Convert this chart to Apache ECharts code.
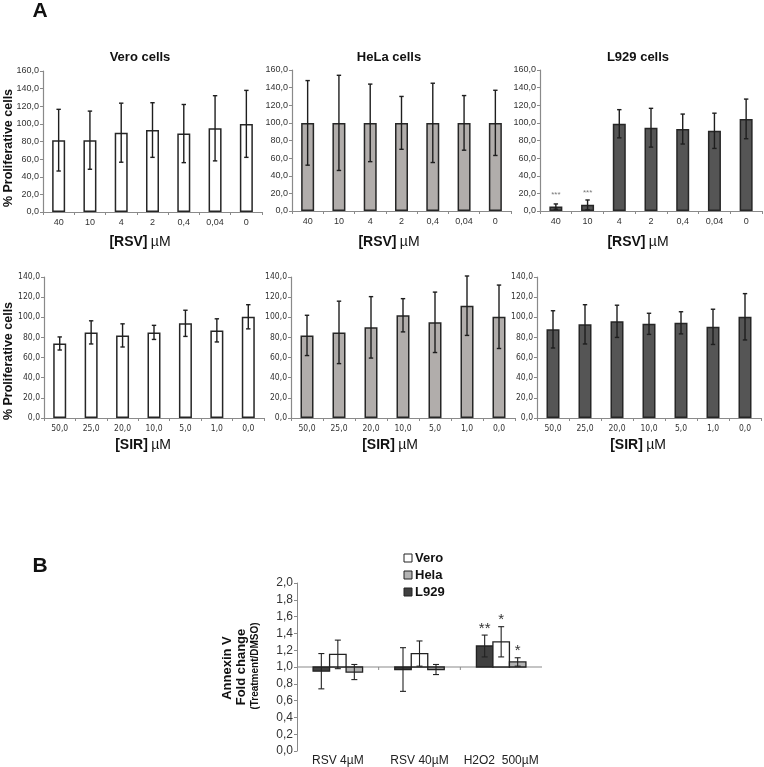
<!DOCTYPE html>
<html><head><meta charset="utf-8">
<script src="https://cdn.jsdelivr.net/npm/echarts@6/dist/echarts.min.js"></script>
<style>html,body{margin:0;padding:0;background:#fff}#c{width:764px;height:767px}</style>
</head><body><div id="c"></div>
<script>
// ---------- DATA ----------
const rsvCats = ['40','10','4','2','0,4','0,04','0'];
const sirCats = ['50,0','25,0','20,0','10,0','5,0','1,0','0,0'];

const veroRSV    = [81.5, 81.5, 90, 93, 89, 95, 100];
const veroRSVErr = [35, 33, 33.5, 31, 33, 37, 38];
const helaRSV    = [100, 100, 100, 100, 100, 100, 100];
const helaRSVErr = [48, 54, 44, 30, 45, 31, 37];
const l929RSV    = [5, 7, 99, 94.5, 93, 91, 104.5];
const l929RSVErr = [3, 5.5, 16, 22, 17, 20, 22.5];
const l929RSVSig = ['***','***','','','','',''];

const veroSIR    = [74, 85, 82, 85, 94, 87, 100.5];
const veroSIRErr = [6.5, 11.5, 11.5, 7, 13, 11.5, 12];
const helaSIR    = [82, 85, 90, 102, 95, 111.5, 100.5];
const helaSIRErr = [20, 31, 30.5, 16.5, 30, 29.5, 31.5];
const l929SIR    = [88, 93, 96, 93.5, 94.5, 90.5, 100.5];
const l929SIRErr = [18.5, 19.5, 16, 10.5, 11, 17.5, 23];

const bCats    = ['RSV 4µM', 'RSV 40µM', 'H2O2  500µM'];
const bL929    = [0.95, 0.97, 1.25];
const bL929Err = [0.21, 0.26, 0.13];
const bL929Sig = ['', '', '**'];
const bVero    = [1.15, 1.16, 1.30];
const bVeroErr = [0.17, 0.15, 0.18];
const bVeroSig = ['', '', '*'];
const bHela    = [0.94, 0.97, 1.06];
const bHelaErr = [0.09, 0.06, 0.05];
const bHelaSig = ['', '', '*'];

// ---------- BUILD ----------
const F = '"Liberation Sans", Arial, sans-serif';
const FN = '"Liberation Sans Narrow", "DejaVu Sans Condensed", "Liberation Sans", sans-serif';
const comma = v => v.toFixed(1).replace('.', ',');

const grids = [], xAxes = [], yAxes = [], series = [];

function panel(pos, cats, vals, errs, color, ymax, narrow, sig) {
  const gi = grids.length;
  grids.push({left: pos[0], top: pos[1], width: pos[2], height: pos[3], containLabel: false});
  xAxes.push({
    type: 'category', gridIndex: gi, data: cats,
    axisLine: {lineStyle: {color: '#8a8a8a', width: 1.2}},
    axisTick: {show: true, length: 3, lineStyle: {color: '#8a8a8a'}},
    axisLabel: {interval: 0, fontSize: narrow ? 8.5 : 9, fontFamily: narrow ? FN : F, color: '#333', margin: 6}
  });
  yAxes.push({
    type: 'value', gridIndex: gi, min: 0, max: ymax, interval: 20,
    axisLine: {show: true, lineStyle: {color: '#8a8a8a', width: 1.2}},
    axisTick: {show: true, length: 3, lineStyle: {color: '#8a8a8a'}},
    splitLine: {show: false},
    axisLabel: {fontSize: narrow ? 8.5 : 9, fontFamily: narrow ? FN : F, color: '#333', margin: 4, formatter: comma}
  });
  series.push({
    type: 'bar', xAxisIndex: gi, yAxisIndex: gi, data: vals, barWidth: 13,
    itemStyle: {color: color, borderColor: '#262626', borderWidth: 1.5},
    label: {show: !!sig, position: 'top', distance: 8, fontSize: 8, color: '#777', fontFamily: F,
      formatter: p => sig ? sig[p.dataIndex] : ''},
    z: 2
  });
  series.push({
    type: 'custom', xAxisIndex: gi, yAxisIndex: gi, z: 3,
    data: vals.map((v, i) => [i, v - errs[i], v + errs[i]]),
    encode: {x: 0, y: [1, 2]},
    renderItem: (params, api) => {
      const x = api.value(0);
      const lo = api.coord([x, api.value(1)]);
      const hi = api.coord([x, api.value(2)]);
      const st = {stroke: '#1e1e1e', lineWidth: 1.4};
      const c = 2.2;
      return {type: 'group', children: [
        {type: 'line', shape: {x1: lo[0], y1: lo[1], x2: hi[0], y2: hi[1]}, style: st},
        {type: 'line', shape: {x1: hi[0]-c, y1: hi[1], x2: hi[0]+c, y2: hi[1]}, style: st},
        {type: 'line', shape: {x1: lo[0]-c, y1: lo[1], x2: lo[0]+c, y2: lo[1]}, style: st}
      ]};
    }
  });
}

panel([43, 71, 219, 141], rsvCats, veroRSV, veroRSVErr, '#ffffff', 160, false, null);
panel([292, 70, 219, 141], rsvCats, helaRSV, helaRSVErr, '#b1adab', 160, false, null);
panel([540, 70, 222, 141], rsvCats, l929RSV, l929RSVErr, '#555555', 160, false, l929RSVSig);
panel([44, 277, 220, 141], sirCats, veroSIR, veroSIRErr, '#ffffff', 140, true, null);
panel([291, 277, 224, 141], sirCats, helaSIR, helaSIRErr, '#b1adab', 140, true, null);
panel([537, 277, 224, 141], sirCats, l929SIR, l929SIRErr, '#555555', 140, true, null);

// Panel B
const bg = grids.length;
grids.push({left: 297, top: 583, width: 245, height: 170});
xAxes.push({
  type: 'category', gridIndex: bg, data: bCats,
  axisLine: {show: false}, axisTick: {show: false},
  axisLabel: {interval: 0, hideOverlap: false, fontSize: 12, fontFamily: F, color: '#222', margin: 4}
});
yAxes.push({
  type: 'value', gridIndex: bg, min: 0, max: 2, interval: 0.2,
  axisLine: {show: true, lineStyle: {color: '#8a8a8a'}},
  axisTick: {show: true, length: 3, lineStyle: {color: '#8a8a8a'}},
  splitLine: {show: false},
  axisLabel: {fontSize: 12, fontFamily: F, color: '#333', margin: 4, formatter: comma}
});
// baseline at 1.0
series.push({
  type: 'custom', xAxisIndex: bg, yAxisIndex: bg, z: 1, data: [[0, 1]],
  renderItem: (params, api) => {
    const cs = params.coordSys;
    const p = api.coord([0, api.value(1)]);
    const w = api.size([1, 0])[0];
    const kids = [{type: 'line', shape: {x1: cs.x, y1: p[1], x2: cs.x + cs.width, y2: p[1]},
      style: {stroke: '#8a8a8a', lineWidth: 1.2}}];
    for (let k = 1; k < bCats.length; k++) {
      const tx = cs.x + w * k;
      kids.push({type: 'line', shape: {x1: tx, y1: p[1], x2: tx, y2: p[1] + 3}, style: {stroke: '#8a8a8a', lineWidth: 1}});
    }
    return {type: 'group', children: kids};
  }
});
const BW = 16.5;
function bSeries(vals, errs, sig, color, off) {
  series.push({
    type: 'custom', xAxisIndex: bg, yAxisIndex: bg, z: 2,
    data: vals.map((v, i) => [i, v]),
    renderItem: (params, api) => {
      const i = api.value(0);
      const p = api.coord([i, api.value(1)]);
      const b = api.coord([i, 1]);
      const cx = p[0] + off * BW;
      return {type: 'rect', shape: {x: cx - BW / 2, y: Math.min(p[1], b[1]), width: BW, height: Math.abs(p[1] - b[1])},
        style: {fill: color, stroke: '#222', lineWidth: 1.3}};
    }
  });
  series.push({
    type: 'custom', xAxisIndex: bg, yAxisIndex: bg, z: 3,
    data: vals.map((v, i) => [i, v - errs[i], v + errs[i]]),
    renderItem: (params, api) => {
      const i = api.value(0);
      const lo = api.coord([i, api.value(1)]);
      const hi = api.coord([i, api.value(2)]);
      const cx = lo[0] + off * BW;
      const st = {stroke: '#222', lineWidth: 1.1};
      const c = 3;
      const kids = [
        {type: 'line', shape: {x1: cx, y1: lo[1], x2: cx, y2: hi[1]}, style: st},
        {type: 'line', shape: {x1: cx - c, y1: hi[1], x2: cx + c, y2: hi[1]}, style: st},
        {type: 'line', shape: {x1: cx - c, y1: lo[1], x2: cx + c, y2: lo[1]}, style: st}
      ];
      const s = sig[params.dataIndex];
      if (s) kids.push({type: 'text', x: cx, y: hi[1] + 1,
        style: {text: s, font: '15px ' + F, fill: '#333', textAlign: 'center', textVerticalAlign: 'bottom'}});
      return {type: 'group', children: kids};
    }
  });
}
bSeries(bL929, bL929Err, bL929Sig, '#404040', -1);
bSeries(bVero, bVeroErr, bVeroSig, '#ffffff', 0);
bSeries(bHela, bHelaErr, bHelaSig, '#b3b3b3', 1);

// ---------- TEXT ----------
function txt(t, x, y, font, opts) {
  return Object.assign({type: 'text', x: x, y: y, silent: true,
    style: {text: t, font: font, fill: '#111', textAlign: 'center', textVerticalAlign: 'middle'}}, opts || {});
}
const graphics = [
  txt('A', 40, 11, 'bold 21px ' + F),
  txt('B', 40, 566, 'bold 21px ' + F),
  txt('Vero cells', 140, 57, 'bold 13px ' + F),
  txt('HeLa cells', 389, 57, 'bold 13px ' + F),
  txt('L929 cells', 638, 57, 'bold 13px ' + F),
  txt('% Proliferative cells', 9, 148, 'bold 12.5px ' + F, {rotation: Math.PI / 2}),
  txt('% Proliferative cells', 9, 361, 'bold 12.5px ' + F, {rotation: Math.PI / 2}),
  txt('Annexin V', 227, 668, 'bold 13px ' + F, {rotation: Math.PI / 2}),
  txt('Fold change', 241, 667, 'bold 13px ' + F, {rotation: Math.PI / 2}),
  txt('(Treatment/DMSO)', 255, 666, 'bold 10px ' + F, {rotation: Math.PI / 2})
];
[[140, 242, '[RSV]'], [389, 242, '[RSV]'], [638, 242, '[RSV]'],
 [143, 445, '[SIR]'], [390, 445, '[SIR]'], [638, 445, '[SIR]']].forEach(a => {
  graphics.push({type: 'text', x: a[0], y: a[1], silent: true, style: {
    text: '{b|' + a[2] + '} {m|µM}', textAlign: 'center', textVerticalAlign: 'middle',
    rich: {b: {font: 'bold 14px ' + F, fill: '#111'}, m: {font: '14px ' + F, fill: '#111'}}
  }});
});
[['Vero', '#ffffff', 558], ['Hela', '#b3b3b3', 575], ['L929', '#404040', 592]].forEach(l => {
  graphics.push({type: 'rect', x: 404, y: l[2] - 4, shape: {x: 0, y: 0, width: 8, height: 8}, silent: true,
    style: {fill: l[1], stroke: '#222', lineWidth: 1}});
  graphics.push({type: 'text', x: 415, y: l[2], silent: true,
    style: {text: l[0], font: 'bold 13px ' + F, fill: '#111', textAlign: 'left', textVerticalAlign: 'middle'}});
});

const chart = echarts.init(document.getElementById('c'), null, {renderer: 'canvas'});
chart.setOption({
  animation: false,
  backgroundColor: '#ffffff',
  grid: grids, xAxis: xAxes, yAxis: yAxes, series: series,
  graphic: graphics
});
</script></body></html>
